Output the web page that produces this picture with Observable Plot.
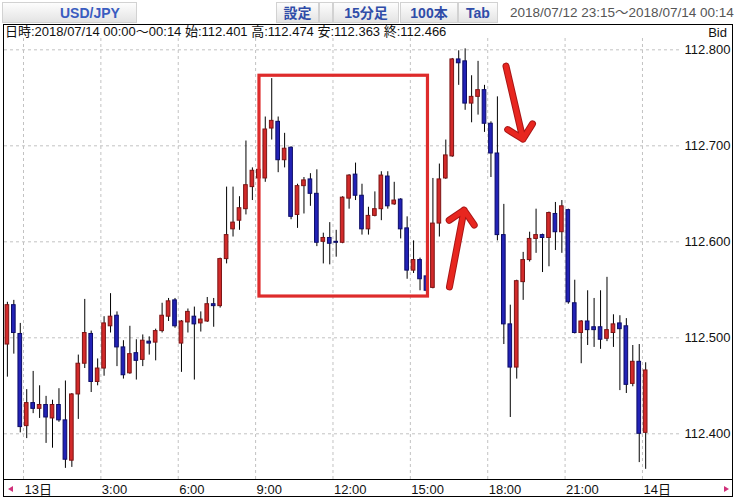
<!DOCTYPE html>
<html>
<head>
<meta charset="utf-8">
<script src="https://cdn.jsdelivr.net/npm/d3@7"></script>
<script src="https://cdn.jsdelivr.net/npm/@observablehq/plot@0.6"></script>
<style>
  html, body { margin: 0; padding: 0; background: #fff; }
  #root { position: relative; width: 737px; height: 499px; overflow: hidden; background: #fff;
    font-family: "Liberation Sans", Arial, "Noto Sans CJK JP", sans-serif; }
  .btn { position: absolute; top: 2px; height: 21px; line-height: 21px; box-sizing: border-box;
    border: 1px solid #d2d2d2; background: linear-gradient(#fdfdfd, #e4e4e4);
    color: #2f4ca8; font-weight: bold; font-size: 14px; text-align: center; white-space: nowrap; }
  #range { position: absolute; top: 5px; left: 510px; font-size: 13.5px; color: #555; white-space: nowrap; line-height: 16px; }
  #frame { position: absolute; left: 3px; top: 24px; width: 730px; height: 473px; box-sizing: border-box; border: 1px solid #000; }
  #info { position: absolute; left: 5px; top: 25px; font-size: 13px; line-height: 14px; color: #111; white-space: nowrap; }
  #bid { position: absolute; right: 10px; top: 26px; font-size: 13px; line-height: 14px; color: #111; }
  #chart { position: absolute; left: 4px; top: 38px; }
  #axisline { position: absolute; left: 3px; top: 479px; width: 730px; height: 1px; background: #000; }
  .triL { position: absolute; left: 8px; top: 486px; width: 0; height: 0;
    border-top: 3px solid transparent; border-bottom: 3px solid transparent; border-right: 5px solid #d0307a; }
  .triR { position: absolute; left: 724px; top: 486px; width: 0; height: 0;
    border-top: 3px solid transparent; border-bottom: 3px solid transparent; border-left: 5px solid #d0307a; }
</style>
</head>
<body>
<div id="root">
  <div class="btn" style="left:2px;width:135px;padding-left:57px;text-align:left;color:#3a5cc0;">USD/JPY</div>
  <div class="btn" style="left:276px;width:43px;">設定</div>
  <div class="btn" style="left:319px;width:14px;"></div>
  <div class="btn" style="left:333px;width:66px;">15分足</div>
  <div class="btn" style="left:400px;width:58px;">100本</div>
  <div class="btn" style="left:458px;width:40px;">Tab</div>
  <div id="range">2018/07/12 23:15〜2018/07/14 00:14</div>
  <div id="frame"></div>
  <div id="chart"></div>
  <div id="info">日時:2018/07/14 00:00〜00:14 始:112.401 高:112.474 安:112.363 終:112.466</div>
  <div id="bid">Bid</div>
  <div id="axisline"></div>
  <div class="triL"></div>
  <div class="triR"></div>
</div>
<script>
// ---- data (15-minute candles, USD/JPY Bid) ----
const startTime = "2018-07-12T23:15:00Z";
const opens = [
  112.493,112.534,112.504,112.408,112.432,112.426,112.430,112.416,112.430,112.414,
  112.372,112.441,112.473,112.504,112.454,112.468,112.512,112.523,112.490,112.463,
  112.484,112.477,112.496,112.495,112.507,112.522,112.539,112.494,112.516,112.522,
  112.515,112.517,112.535,112.533,112.582,112.613,112.622,112.634,112.657,112.666,
  112.666,112.718,112.725,112.685,112.698,112.628,112.658,112.665,112.650,112.600,
  112.604,112.600,112.599,112.645,112.670,112.648,112.613,112.627,112.634,112.668,
  112.639,112.644,112.614,112.570,112.581,112.564,112.552,112.619,112.666,112.689,
  112.790,112.788,112.744,112.751,112.758,112.723,112.692,112.607,112.514,112.469,
  112.558,112.581,112.603,112.607,112.604,112.629,112.610,112.633,112.536,112.505,
  112.517,112.511,112.511,112.499,112.505,112.515,112.512,112.452,112.475,112.401
];
const highs = [
  112.537,112.539,112.515,112.446,112.465,112.450,112.439,112.435,112.447,112.455,
  112.442,112.482,112.540,112.507,112.478,112.522,112.546,112.527,112.497,112.512,
  112.498,112.503,112.501,112.509,112.536,112.541,112.541,112.518,112.530,112.532,
  112.527,112.542,112.541,112.583,112.657,112.657,112.647,112.705,112.677,112.677,
  112.730,112.770,112.730,112.713,112.699,112.660,112.667,112.671,112.675,112.609,
  112.620,112.612,112.647,112.670,112.682,112.660,112.636,112.652,112.673,112.673,
  112.662,112.645,112.626,112.601,112.583,112.579,112.666,112.681,112.706,112.791,
  112.799,112.801,112.773,112.788,112.763,112.725,112.751,112.639,112.534,112.560,
  112.589,112.610,112.634,112.608,112.631,112.641,112.643,112.634,112.560,112.518,
  112.549,112.541,112.549,112.563,112.524,112.523,112.520,112.492,112.493,112.474
];
const lows = [
  112.459,112.483,112.401,112.395,112.421,112.416,112.390,112.385,112.412,112.364,
  112.365,112.415,112.468,112.443,112.450,112.460,112.505,112.470,112.457,112.462,
  112.456,112.470,112.482,112.476,112.505,112.517,112.510,112.464,112.505,112.456,
  112.506,112.516,112.511,112.531,112.577,112.605,112.612,112.628,112.643,112.664,
  112.662,112.706,112.672,112.677,112.623,112.614,112.629,112.637,112.595,112.577,
  112.576,112.584,112.598,112.634,112.643,112.607,112.607,112.626,112.622,112.634,
  112.638,112.603,112.561,112.567,112.549,112.547,112.551,112.605,112.665,112.688,
  112.763,112.737,112.724,112.732,112.714,112.667,112.601,112.493,112.417,112.457,
  112.539,112.579,112.588,112.568,112.574,112.591,112.588,112.535,112.504,112.473,
  112.492,112.490,112.488,112.496,112.490,112.445,112.442,112.449,112.370,112.363
];
const closes = [
  112.534,112.505,112.407,112.432,112.426,112.430,112.417,112.430,112.414,112.373,
  112.441,112.473,112.505,112.454,112.468,112.515,112.522,112.490,112.461,112.483,
  112.476,112.497,112.494,112.507,112.523,112.538,112.512,112.517,112.527,112.514,
  112.519,112.535,112.533,112.582,112.607,112.620,112.635,112.659,112.674,112.675,
  112.717,112.726,112.685,112.697,112.626,112.658,112.664,112.650,112.599,112.604,
  112.598,112.599,112.646,112.669,112.648,112.613,112.627,112.634,112.669,112.637,
  112.643,112.613,112.570,112.581,112.561,112.549,112.619,112.665,112.690,112.790,
  112.786,112.744,112.751,112.758,112.723,112.692,112.607,112.514,112.469,112.559,
  112.581,112.603,112.607,112.604,112.630,112.610,112.637,112.537,112.505,112.517,
  112.508,112.508,112.498,112.508,112.514,112.509,112.451,112.475,112.400,112.466
];
const xTickTimes = [
  "2018-07-13T00:00:00Z","2018-07-13T03:00:00Z","2018-07-13T06:00:00Z",
  "2018-07-13T09:00:00Z","2018-07-13T12:00:00Z","2018-07-13T15:00:00Z",
  "2018-07-13T18:00:00Z","2018-07-13T21:00:00Z","2018-07-14T00:00:00Z"
];
const yTickValues = [112.4, 112.5, 112.6, 112.7, 112.8];

// red annotation box (time range, price range)
const boxTimes = ["2018-07-13T09:09:00Z", "2018-07-13T15:41:00Z"];
const boxPrices = [112.543, 112.773];
// red arrows: tail -> tip
const arrowTailTimes = ["2018-07-13T16:31:00Z", "2018-07-13T18:42:30Z"];
const arrowTailPrices = [112.553, 112.783];
const arrowTipTimes = ["2018-07-13T17:05:00Z", "2018-07-13T19:22:00Z"];
const arrowTipPrices = [112.633, 112.707];

// ---- build ----
const t0 = new Date(startTime);
const MIN = 60000;
const candles = opens.map((o, i) => ({
  time: new Date(+t0 + i * 15 * MIN),
  open: o, high: highs[i], low: lows[i], close: closes[i]
}));
const ups = candles.filter(d => d.close >= d.open);
const downs = candles.filter(d => d.close < d.open);
const xTicks = xTickTimes.map(s => new Date(s));
const box = [{x1: new Date(boxTimes[0]), x2: new Date(boxTimes[1]), y1: boxPrices[0], y2: boxPrices[1]}];
const arrows = arrowTailTimes.map((s, i) => ({
  x1: new Date(s), y1: arrowTailPrices[i], x2: new Date(arrowTipTimes[i]), y2: arrowTipPrices[i]
}));

const RED = "#d22a2a", RED_EDGE = "#7c1414";
const BLUE = "#2222b6", BLUE_EDGE = "#0c0c66";
const GRID = "#c2c2c2";

const bodyOpts = (fill, stroke) => ({
  x1: "time", x2: d => new Date(+d.time + 15 * MIN),
  y1: "open", y2: "close", insetLeft: 1.4, insetRight: 1.4,
  fill, stroke, strokeWidth: 1
});

const chart = Plot.plot({
  width: 728,
  height: 458,
  marginLeft: 0,
  marginRight: 52,
  marginTop: 0,
  marginBottom: 17,
  x: {type: "utc", domain: [new Date("2018-07-12T23:15:48Z"), new Date("2018-07-14T01:28:30Z")]},
  y: {domain: [112.3524, 112.8118]},
  style: {
    fontFamily: "'Liberation Sans', Arial, 'Noto Sans CJK JP', sans-serif",
    fontSize: "13px", background: "transparent", overflow: "visible", color: "#111"
  },
  marks: [
    Plot.ruleY(yTickValues, {stroke: GRID, strokeDasharray: "3,3"}),
    Plot.ruleX(xTicks, {stroke: GRID, strokeDasharray: "3,3"}),
    Plot.ruleX(candles, {x: d => new Date(+d.time + 7.5 * MIN), y1: "low", y2: "high", stroke: "#000", strokeWidth: 1}),
    Plot.rect(ups, bodyOpts(RED, RED_EDGE)),
    Plot.rect(downs, bodyOpts(BLUE, BLUE_EDGE)),
    Plot.axisY({
      ticks: yTickValues, anchor: "right", tickSize: 0, textAnchor: "end", dx: 41,
      tickFormat: d3.format(".3f"), label: null, fontSize: 13
    }),
    Plot.axisX({
      ticks: xTicks, anchor: "bottom", tickSize: 0, textAnchor: "start", dx: 1, dy: -4,
      tickFormat: d => d.getUTCHours() === 0 ? `${d.getUTCDate()}日` : `${d.getUTCHours()}:00`,
      label: null, fontSize: 13
    }),
    Plot.rect(box, {x1: "x1", x2: "x2", y1: "y1", y2: "y2", fill: "none", stroke: "#de2b2b", strokeWidth: 3.2}),
    Plot.arrow(arrows, {x1: "x1", y1: "y1", x2: "x2", y2: "y2", stroke: "#a81616", strokeWidth: 7,
      headAngle: 90, headLength: 18 * 1.5 / 7, strokeLinecap: "round", strokeLinejoin: "round"}),
    Plot.arrow(arrows, {x1: "x1", y1: "y1", x2: "x2", y2: "y2", stroke: "#e8261f", strokeWidth: 5,
      headAngle: 90, headLength: 18 * 1.5 / 5, strokeLinecap: "round", strokeLinejoin: "round"})
  ]
});
document.getElementById("chart").appendChild(chart);
</script>
</body>
</html>
